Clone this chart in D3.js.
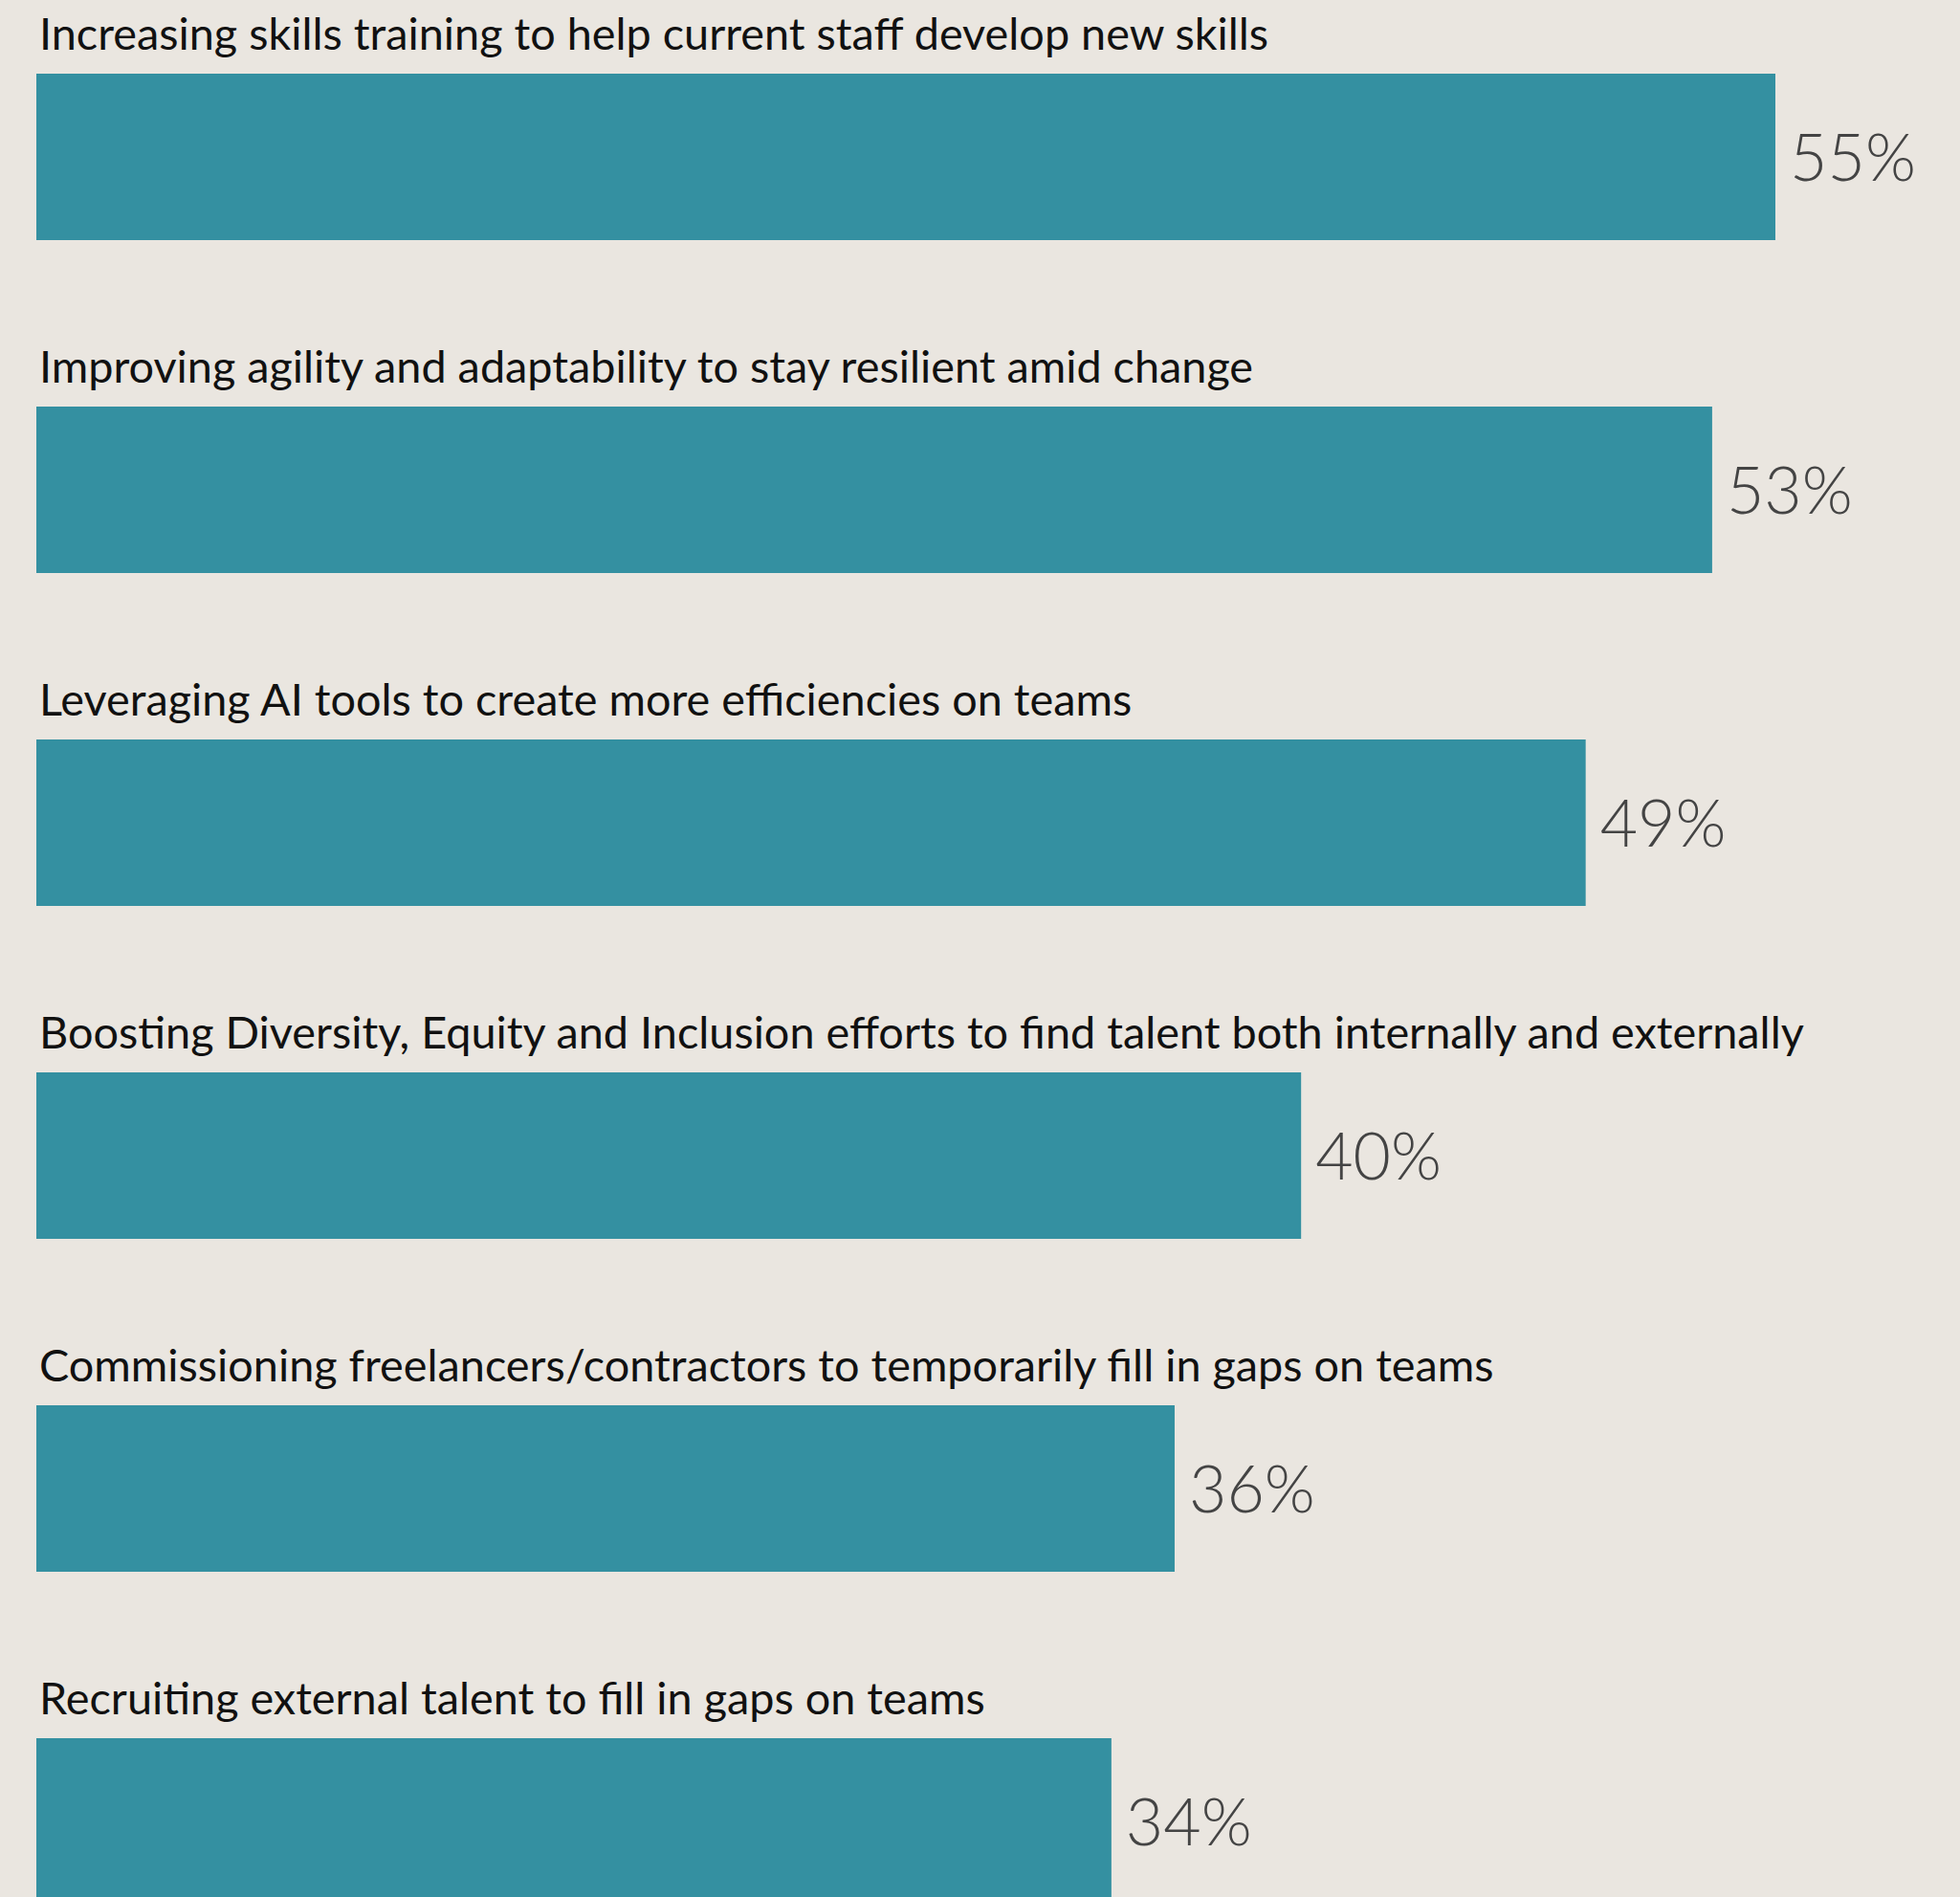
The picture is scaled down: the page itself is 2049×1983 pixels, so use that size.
<!DOCTYPE html>
<html>
<head>
<meta charset="utf-8">
<script src="https://cdn.jsdelivr.net/npm/d3@7"></script>
<style>
  html, body { margin: 0; padding: 0; background: #EAE6E0; overflow: hidden; }
  svg { display: block; }
</style>
</head>
<body>
<script>
// Workforce strategies and the share of respondents pursuing each one
const categories = [
  "Increasing skills training to help current staff develop new skills",
  "Improving agility and adaptability to stay resilient amid change",
  "Leveraging AI tools to create more efficiencies on teams",
  "Boosting Diversity, Equity and Inclusion efforts to find talent both internally and externally",
  "Commissioning freelancers/contractors to temporarily fill in gaps on teams",
  "Recruiting external talent to fill in gaps on teams"
];
const values = [55, 53, 49, 40, 36, 34];

const W = 2049, H = 1983;

const svg = d3.select("body").append("svg")
  .attr("width", W).attr("height", H);

svg.append("rect").attr("width", W).attr("height", H).attr("fill", "#EAE6E0");

const x = d3.scaleLinear().domain([0, 55]).range([38, 1856]);
const y = d3.scaleBand().domain(categories).range([77, 1991])
  .paddingInner(0.5).paddingOuter(0);

const rows = svg.selectAll("g.row")
  .data(categories.map((c, i) => ({ cat: c, val: values[i] })))
  .join("g").attr("class", "row");

rows.append("rect")
  .attr("x", x(0))
  .attr("y", d => y(d.cat))
  .attr("width", d => x(d.val) - x(0))
  .attr("height", y.bandwidth())
  .attr("fill", "#3490A1");

rows.append("text")
  .attr("x", 41)
  .attr("y", d => y(d.cat) - 25)
  .attr("font-family", "Lato, 'Open Sans', sans-serif")
  .attr("font-size", 46.8)
  .attr("fill", "#111")
  .text(d => d.cat);

rows.append("text")
  .attr("x", d => x(d.val) + 15)
  .attr("y", d => y(d.cat) + y.bandwidth() / 2 + 25)
  .attr("font-family", "Lato, 'Open Sans', sans-serif")
  .attr("font-weight", 300)
  .attr("font-size", 68)
  .attr("fill", "#444")
  .text(d => d.val + "%");
</script>
</body>
</html>
